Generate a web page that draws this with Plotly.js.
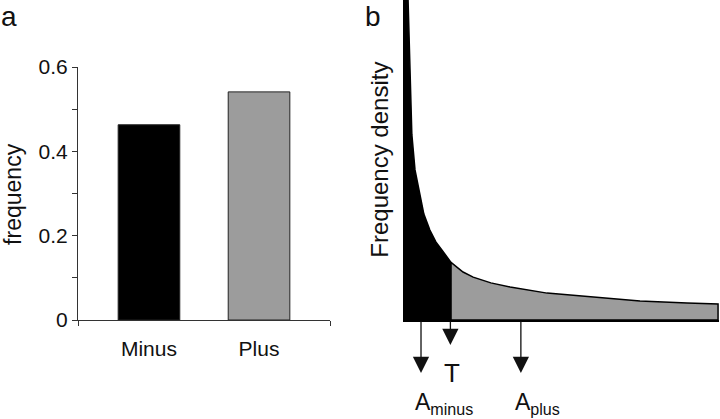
<!DOCTYPE html>
<html lang="en">
<head>
    <meta charset="UTF-8">
    <title>Frequency panels</title>
    <script src="https://cdn.plot.ly/plotly-3.0.1.min.js"></script>
    <style>
        body { margin: 0; background: #fff; }
    </style>
</head>
<body>
<div id="chart" style="width:720px;height:419px;"></div>
<script>

// panel a: bar values
const groups = ['Minus', 'Plus'];
const freq = [0.463, 0.541];
const barColors = ['#000000', '#9c9c9c'];

// panel b: frequency density curve
const curveX = [0, 0.16, 0.22, 0.28, 0.38, 0.54, 0.66, 0.85, 1.04, 1.23, 1.52, 1.90, 2.22, 2.78, 3.39, 4.56, 5.92, 7.5, 8.99, 9.97];
const curveY = [14, 10, 7.8, 5.8, 4.69, 3.84, 3.31, 2.81, 2.44, 2.19, 1.8, 1.5, 1.34, 1.16, 1.03, 0.84, 0.72, 0.59, 0.53, 0.5];
const threshold = 1.52;

// arrows under panel b
const markerNames = ['A<sub>minus</sub>', 'T', 'A<sub>plus</sub>'];
const markerX = [0.57, 1.5, 3.73];
const markerTip = [-1.66, -0.78, -1.66];

const font = 'Liberation Sans, Arial, sans-serif';

// split the curve at T into two closed areas
function area(keep) {
    const xs = [], ys = [];
    curveX.forEach((x, i) => { if (keep(x)) { xs.push(x); ys.push(curveY[i]); } });
    return {
        x: [xs[0]].concat(xs, [xs[xs.length - 1], xs[0]]),
        y: [0].concat(ys, [0, 0])
    };
}
const left = area(x => x <= threshold);
const right = area(x => x >= threshold);

const data = [
    {
        type: 'bar', x: groups, y: freq, width: 0.56,
        marker: { color: barColors, line: { color: '#222', width: 1 } },
        xaxis: 'x', yaxis: 'y', hoverinfo: 'skip'
    },
    {
        x: left.x, y: left.y, mode: 'lines', fill: 'toself',
        fillcolor: '#000', line: { color: '#000', width: 1.5 },
        xaxis: 'x2', yaxis: 'y2'
    },
    {
        x: right.x, y: right.y, mode: 'lines', fill: 'toself',
        fillcolor: '#9c9c9c', line: { color: '#000', width: 1.5 },
        xaxis: 'x2', yaxis: 'y2'
    }
];

const annotations = [
    { text: 'a', xref: 'paper', yref: 'paper', x: 0, y: 1.0, xanchor: 'left', yanchor: 'top', borderpad: 0,
      showarrow: false, font: { size: 28, family: font, color: '#111' } },
    { text: 'b', xref: 'paper', yref: 'paper', x: 0.505, y: 1.0, xanchor: 'left', yanchor: 'top', borderpad: 0,
      showarrow: false, font: { size: 28, family: font, color: '#111' } },
    { text: 'frequency', xref: 'paper', yref: 'paper', x: 0.018, y: 0.394, textangle: -90,
      xanchor: 'center', yanchor: 'middle',
      showarrow: false, font: { size: 23, family: font, color: '#111' } },
    { text: 'Frequency density', xref: 'paper', yref: 'paper', x: 0.526, y: 0.5, textangle: -90,
      xanchor: 'center', yanchor: 'middle',
      showarrow: false, font: { size: 24, family: font, color: '#111' } }
];

markerX.forEach((x, i) => {
    annotations.push({
        text: '', x: x, y: markerTip[i], ax: x, ay: 0,
        xref: 'x2', yref: 'y2', axref: 'x2', ayref: 'y2',
        showarrow: true, arrowhead: 2, arrowsize: 2.5, arrowwidth: 1.3, arrowcolor: '#111'
    });
});
// labels sit below the plot, so they use paper y
annotations.push(
    { text: markerNames[0], xref: 'x2', yref: 'paper', x: 0.32, y: -0.262, xanchor: 'left', yanchor: 'middle',
      showarrow: false, font: { size: 23, family: font, color: '#111' } },
    { text: markerNames[1], xref: 'x2', yref: 'paper', x: markerX[1] + 0.05, y: -0.166, xanchor: 'center', yanchor: 'middle',
      showarrow: false, font: { size: 26, family: font, color: '#111' } },
    { text: markerNames[2], xref: 'x2', yref: 'paper', x: 3.48, y: -0.262, xanchor: 'left', yanchor: 'middle',
      showarrow: false, font: { size: 23, family: font, color: '#111' } }
);

const layout = {
    width: 720, height: 419,
    margin: { l: 0, r: 0, t: 0, b: 99 },
    paper_bgcolor: '#fff', plot_bgcolor: '#fff',
    showlegend: false,
    font: { family: font, color: '#111' },
    xaxis: {
        domain: [78 / 720, 330 / 720], type: 'category', range: [-0.645, 1.645],
        showline: true, linecolor: '#333', linewidth: 1, ticks: '',
        showgrid: false, zeroline: false, fixedrange: true,
        tickfont: { size: 21, family: font, color: '#111' }, ticklabelstandoff: 10,
        minor: { tickvals: [-0.645, 1.645], ticks: 'outside', ticklen: 5, tickcolor: '#333' }
    },
    yaxis: {
        domain: [0, 253 / 320], range: [0, 0.6], dtick: 0.2, tickformat: '.1~f',
        showline: true, linecolor: '#333', linewidth: 1,
        ticks: 'outside', ticklen: 5, tickcolor: '#333',
        minor: { dtick: 0.1, ticks: 'outside', ticklen: 5, tickcolor: '#333' },
        showgrid: false, zeroline: false, fixedrange: true,
        tickfont: { size: 21, family: font, color: '#111' }
    },
    xaxis2: {
        domain: [403 / 720, 719 / 720], range: [0, 10], anchor: 'y2',
        showline: true, linecolor: '#000', linewidth: 1.5, ticks: '', showticklabels: false,
        showgrid: false, zeroline: false, fixedrange: true
    },
    yaxis2: {
        domain: [0, 1], range: [0, 10], anchor: 'x2',
        showline: false, ticks: '', showticklabels: false,
        showgrid: false, zeroline: false, fixedrange: true
    },
    annotations: annotations
};

Plotly.newPlot('chart', data, layout, { displayModeBar: false, staticPlot: true });

</script>
</body>
</html>
